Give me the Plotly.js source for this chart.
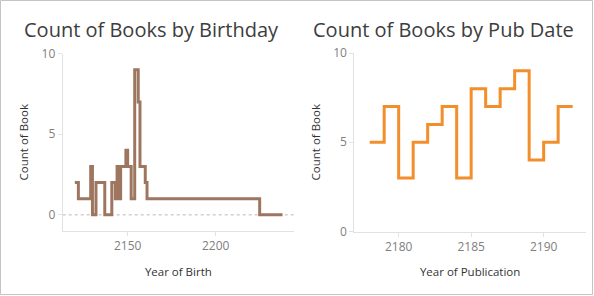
<!DOCTYPE html>
<html>
<head>
<meta charset="utf-8">
<script src="https://cdn.plot.ly/plotly-3.0.1.min.js"></script>
<style>
  html, body { margin: 0; padding: 0; background: #ffffff; }
  #chart { width: 594px; height: 296px; }
</style>
</head>
<body>
<div id="chart"></div>
<script>
// ---- Data ----
const birthYears  = [2120, 2122, 2129, 2130, 2132, 2137, 2141, 2143, 2144, 2145, 2146, 2149, 2150, 2152, 2154, 2156, 2157, 2160, 2161, 2225, 2238];
const birthCounts = [2,    1,    3,    0,    2,    0,    2,    1,    3,    1,    3,    4,    3,    1,    9,    7,    3,    2,    1,    0,    0];

const pubYears  = [2178, 2179, 2180, 2181, 2182, 2183, 2184, 2185, 2186, 2187, 2188, 2189, 2190, 2191, 2192];
const pubCounts = [5,    7,    3,    5,    6,    7,    3,    8,    7,    8,    9,    4,    5,    7,    7];

const leftTitle = "Count of Books by Birthday";
const rightTitle = "Count of Books by Pub Date";
const leftXTitle = "Year of Birth";
const rightXTitle = "Year of Publication";
const yTitle = "Count of Book";

// ---- Layout helpers ----
const W = 594, H = 296;
const fx = p => p / W;
const fy = p => 1 - p / H;

const FONT = "'Open Sans', Lato, sans-serif";
const tickFont = { family: FONT, size: 12, color: "#808080" };
const axTitleFont = { family: FONT, size: 11.5, color: "#333333" };
const axisLine = "#e2e2e2";

const traces = [
  {
    x: birthYears, y: birthCounts, type: "scatter", mode: "lines",
    line: { shape: "hv", color: "#9e7660", width: 3 },
    xaxis: "x", yaxis: "y", hoverinfo: "skip"
  },
  {
    x: pubYears, y: pubCounts, type: "scatter", mode: "lines",
    line: { shape: "hv", color: "#f28e2b", width: 3 },
    xaxis: "x2", yaxis: "y2", hoverinfo: "skip"
  }
];

const commonX = {
  showgrid: false, zeroline: false, showline: true, linecolor: axisLine, linewidth: 1,
  ticks: "outside", ticklen: 4, tickcolor: axisLine, tickfont: tickFont,
  title: { font: axTitleFont, standoff: 14 }
};
const commonY = {
  showgrid: false, zeroline: false, showline: true, linecolor: axisLine, linewidth: 1,
  ticks: "outside", ticklen: 4, tickcolor: axisLine, tickfont: tickFont,
  dtick: 5, tick0: 0,
  title: { font: axTitleFont, standoff: 10 }
};

const layout = {
  width: W, height: H,
  margin: { l: 0, r: 0, t: 0, b: 0 },
  paper_bgcolor: "#ffffff", plot_bgcolor: "#ffffff",
  showlegend: false,
  xaxis: Object.assign({}, commonX, {
    domain: [fx(62.7), fx(294)], range: [2113.1, 2244.5], dtick: 50, tick0: 2150,
    anchor: "y", title: Object.assign({}, commonX.title, { text: leftXTitle })
  }),
  yaxis: Object.assign({}, commonY, {
    domain: [fy(231), fy(53.5)], range: [-1, 10],
    anchor: "x", title: Object.assign({}, commonY.title, { text: yTitle })
  }),
  xaxis2: Object.assign({}, commonX, {
    domain: [fx(354.3), fx(586)], range: [2176.94, 2192.92], dtick: 5, tick0: 2180,
    anchor: "y2", title: Object.assign({}, commonX.title, { text: rightXTitle })
  }),
  yaxis2: Object.assign({}, commonY, {
    domain: [fy(231.5), fy(53)], range: [0, 10],
    anchor: "x2", title: Object.assign({}, commonY.title, { text: yTitle })
  }),
  annotations: [
    { text: leftTitle, xref: "paper", yref: "paper", x: fx(151.7), y: fy(30),
      xanchor: "center", yanchor: "middle", showarrow: false,
      font: { family: FONT, size: 20, color: "#3d3d3d" } },
    { text: rightTitle, xref: "paper", yref: "paper", x: fx(443.8), y: fy(30),
      xanchor: "center", yanchor: "middle", showarrow: false,
      font: { family: FONT, size: 20, color: "#3d3d3d" } }
  ],
  shapes: [
    { type: "line", xref: "x domain", yref: "y", x0: 0, x1: 1, y0: 0, y1: 0,
      line: { color: "#b8b8b8", width: 1, dash: "dot" }, layer: "below" },
    { type: "rect", xref: "paper", yref: "paper",
      x0: fx(0.5), x1: fx(592.5), y0: fy(294.5), y1: fy(0.5),
      line: { color: "#c4c4c4", width: 1 }, fillcolor: "rgba(0,0,0,0)" }
  ]
};

Plotly.newPlot("chart", traces, layout, { displayModeBar: false, staticPlot: true });
</script>
</body>
</html>
